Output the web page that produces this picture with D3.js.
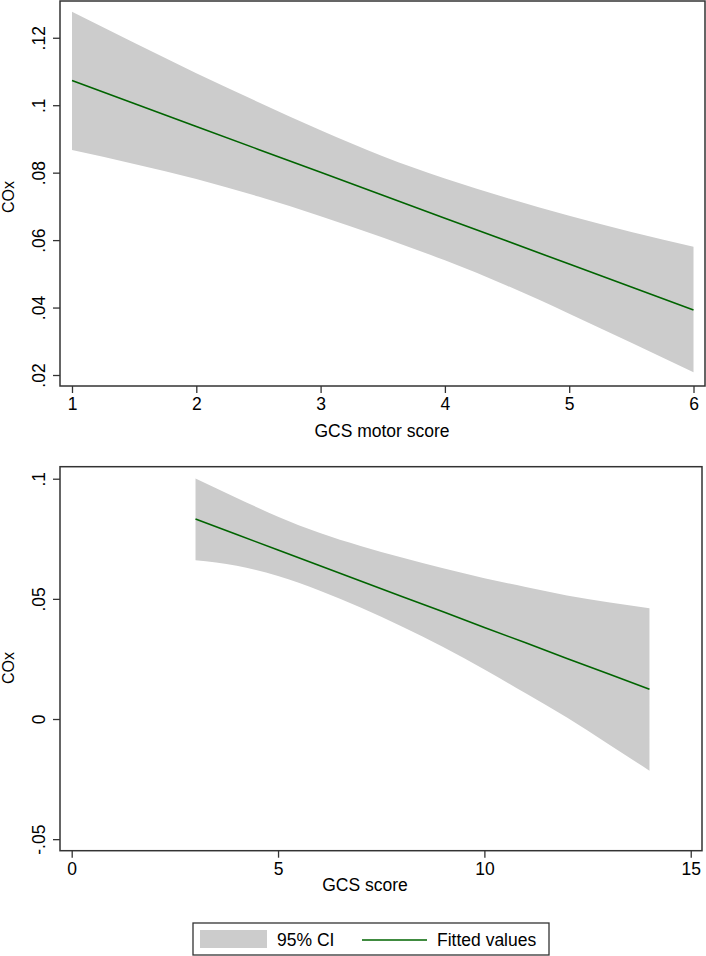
<!DOCTYPE html>
<html>
<head>
<meta charset="utf-8">
<script src="https://cdn.jsdelivr.net/npm/d3@7"></script>
<style>
  html, body { margin: 0; padding: 0; background: #fff; }
  svg { display: block; }
  text { font-family: "Liberation Sans", Arial, Helvetica, sans-serif; fill: #000; }
</style>
</head>
<body>
<svg id="chart" width="706" height="956"></svg>
<script>
// ---------- Data ----------
// Panel A: COx vs GCS motor score
const motorX     = [1, 1.5, 2, 2.5, 3, 3.5, 4, 4.5, 5, 5.5, 6];
const motorFit   = [0.1073, 0.1005, 0.0937, 0.0869, 0.0801, 0.0733, 0.0665, 0.0597, 0.0529, 0.0461, 0.0393];
const motorUpper = [0.1277, 0.1185, 0.1095, 0.1009, 0.0926, 0.0849, 0.0783, 0.0725, 0.0672, 0.0624, 0.0580];
const motorLower = [0.0867, 0.0826, 0.0781, 0.0729, 0.0671, 0.0608, 0.0540, 0.0465, 0.0382, 0.0296, 0.0208];
const motorXTicks = [1, 2, 3, 4, 5, 6];
const motorYTicks = [0.02, 0.04, 0.06, 0.08, 0.10, 0.12];
const motorYLabels = [".02", ".04", ".06", ".08", ".1", ".12"];

// Panel B: COx vs GCS score
const gcsX     = [3, 4, 5, 6, 7, 8, 9, 10, 11, 12, 13, 14];
const gcsFit   = [0.0832, 0.0768, 0.0703, 0.0639, 0.0574, 0.0510, 0.0446, 0.0381, 0.0317, 0.0252, 0.0188, 0.0124];
const gcsUpper = [0.1001, 0.0920, 0.0842, 0.0775, 0.0720, 0.0672, 0.0627, 0.0586, 0.0549, 0.0514, 0.0486, 0.0461];
const gcsLower = [0.0661, 0.0638, 0.0595, 0.0535, 0.0464, 0.0385, 0.0300, 0.0206, 0.0107, 0.0006, -0.0104, -0.0215];
const gcsXTicks = [0, 5, 10, 15];
const gcsYTicks = [-0.05, 0, 0.05, 0.10];
const gcsYLabels = ["-.05", "0", ".05", ".1"];

const yTitle = "COx";
const motorXTitle = "GCS motor score";
const gcsXTitle = "GCS score";
const legendItems = ["95% CI", "Fitted values"];

// ---------- Styles ----------
const bandColor = "#cccccc";
const lineColor = "#006400";
const frameColor = "#333333";
const fs = 17.5;

const svg = d3.select("#chart");

function panel(cfg) {
  const { x, y, xs, fit, up, lo, xTicks, yTicks, yLabels, xTitle, xTitleX, xTitleY, yTitleY } = cfg;
  const [x0, x1] = x.range();
  const [yb, yt] = y.range();
  const g = svg.append("g");

  const pts = xs.map((d, i) => ({ x: d, f: fit[i], u: up[i], l: lo[i] }));

  g.append("path")
    .datum(pts)
    .attr("fill", bandColor)
    .attr("stroke", "none")
    .attr("d", d3.area().curve(d3.curveMonotoneX)
      .x(d => x(d.x)).y0(d => y(d.l)).y1(d => y(d.u)));

  g.append("path")
    .datum(pts)
    .attr("fill", "none")
    .attr("stroke", lineColor)
    .attr("stroke-width", 1.6)
    .attr("d", d3.line().x(d => x(d.x)).y(d => y(d.f)));

  // frame
  g.append("rect")
    .attr("x", x0).attr("y", yt)
    .attr("width", x1 - x0).attr("height", yb - yt)
    .attr("fill", "none").attr("stroke", frameColor).attr("stroke-width", 1.5);

  // x axis
  const xa = g.append("g").attr("transform", `translate(0,${yb})`)
    .call(d3.axisBottom(x).tickValues(xTicks).tickSize(7).tickPadding(5).tickFormat(d3.format("d")));
  xa.select(".domain").remove();
  xa.selectAll("line").attr("stroke", frameColor).attr("stroke-width", 1.3);
  xa.selectAll("text").attr("font-size", fs).attr("font-family", "Liberation Sans, Arial, sans-serif");

  // y axis
  const ya = g.append("g").attr("transform", `translate(${x0},0)`)
    .call(d3.axisLeft(y).tickValues(yTicks).tickSize(7).tickFormat((d, i) => yLabels[i]));
  ya.select(".domain").remove();
  ya.selectAll("line").attr("stroke", frameColor).attr("stroke-width", 1.3);
  ya.selectAll("text")
    .attr("font-size", fs).attr("font-family", "Liberation Sans, Arial, sans-serif")
    .attr("text-anchor", "middle")
    .attr("x", 0).attr("dy", 0)
    .attr("transform", "translate(-15,0) rotate(-90)");

  g.append("text")
    .attr("transform", `translate(14,${yTitleY}) rotate(-90)`)
    .attr("text-anchor", "middle")
    .attr("font-size", 16)
    .text(yTitle);

  g.append("text")
    .attr("x", xTitleX).attr("y", xTitleY)
    .attr("text-anchor", "middle")
    .attr("font-size", fs)
    .text(xTitle);
}

// Panel A scales
const xA = d3.scaleLinear().domain([0.9035, 6.0925]).range([60, 705]);
const yA = d3.scaleLinear().domain([0.01674, 0.1309]).range([386, 1]);
panel({ x: xA, y: yA, xs: motorX, fit: motorFit, up: motorUpper, lo: motorLower,
  xTicks: motorXTicks, yTicks: motorYTicks, yLabels: motorYLabels,
  xTitle: motorXTitle, xTitleX: 382, xTitleY: 437, yTitleY: 197 });

// Panel B scales
const xB = d3.scaleLinear().domain([-0.2835, 15.273]).range([60, 702]);
const yB = d3.scaleLinear().domain([-0.0548, 0.1050]).range([850.7, 466.7]);
panel({ x: xB, y: yB, xs: gcsX, fit: gcsFit, up: gcsUpper, lo: gcsLower,
  xTicks: gcsXTicks, yTicks: gcsYTicks, yLabels: gcsYLabels,
  xTitle: gcsXTitle, xTitleX: 365, xTitleY: 891, yTitleY: 668 });

// Legend
const lg = svg.append("g");
lg.append("rect").attr("x", 193).attr("y", 923).attr("width", 356).attr("height", 32)
  .attr("fill", "#fff").attr("stroke", frameColor).attr("stroke-width", 1.3);
lg.append("rect").attr("x", 200).attr("y", 930).attr("width", 67).attr("height", 18)
  .attr("fill", bandColor);
lg.append("text").attr("x", 277).attr("y", 946).attr("font-size", fs).text(legendItems[0]);
lg.append("line").attr("x1", 362).attr("x2", 427).attr("y1", 940).attr("y2", 940)
  .attr("stroke", lineColor).attr("stroke-width", 1.6);
lg.append("text").attr("x", 437).attr("y", 946).attr("font-size", fs).text(legendItems[1]);
</script>
</body>
</html>
